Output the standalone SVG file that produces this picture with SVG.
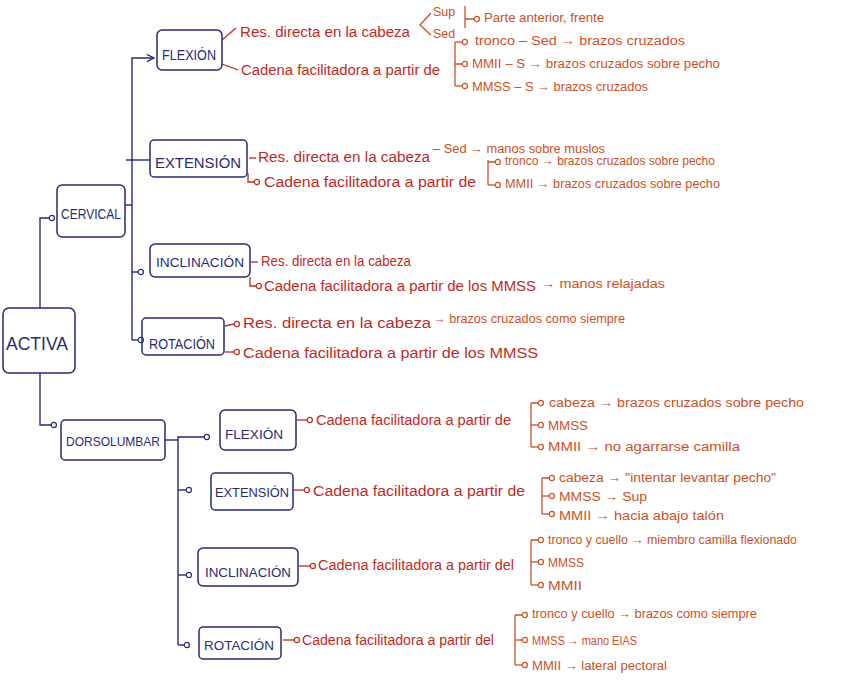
<svg xmlns="http://www.w3.org/2000/svg" width="848" height="687" viewBox="0 0 848 687">
<style>
.bx{fill:none;stroke:#272b74;stroke-width:1.5}
.ln{fill:none;stroke:#272b74;stroke-width:1.4}
.rl{fill:none;stroke:#bf2a1f;stroke-width:1.3}
.ol{fill:none;stroke:#cc5026;stroke-width:1.3}
text{font-family:"Liberation Sans","DejaVu Sans",sans-serif}
.t{fill:#272b74;font-size:15px}
.r{fill:#bf2a1f;font-size:14px}
.o{fill:#cc5026;font-size:12.5px}
</style>
<defs>
<marker id="cn" viewBox="0 0 8 8" refX="1.2" refY="4" markerWidth="8" markerHeight="8" markerUnits="userSpaceOnUse"><circle cx="4" cy="4" r="2.6" fill="#fff" stroke="#272b74" stroke-width="1.2"/></marker>
<marker id="cr" viewBox="0 0 8 8" refX="1.2" refY="4" markerWidth="8" markerHeight="8" markerUnits="userSpaceOnUse"><circle cx="4" cy="4" r="2.6" fill="#fff" stroke="#bf2a1f" stroke-width="1.2"/></marker>
<marker id="co" viewBox="0 0 8 8" refX="1.2" refY="4" markerWidth="8" markerHeight="8" markerUnits="userSpaceOnUse"><circle cx="4" cy="4" r="2.6" fill="#fff" stroke="#cc5026" stroke-width="1.2"/></marker>
<marker id="an" viewBox="0 0 10 10" refX="9" refY="5" markerWidth="9" markerHeight="9" markerUnits="userSpaceOnUse" orient="auto"><path d="M1,1 L9,5 L1,9" fill="none" stroke="#272b74" stroke-width="1.4"/></marker>
</defs>
<rect width="848" height="687" fill="#fff"/>

<g id="connectors">
  <path class="ln" d="M40,308 L40,218 L49,218" marker-end="url(#cn)"/>
  <path class="ln" d="M40,373 L40,425 L51,425" marker-end="url(#cn)"/>
  <path class="ln" d="M125,205 L132,205"/>
  <path class="ln" d="M132,340 L132,58 L154,58" marker-end="url(#an)"/>
  <path class="ln" d="M126,160 L150,160"/>
  <path class="ln" d="M132,272 L138,272" marker-end="url(#cn)"/>
  <path class="ln" d="M132,340 L138,340" marker-end="url(#cn)"/>
  <path class="ln" d="M165,440 L178,440"/>
  <path class="ln" d="M178,645 L178,437 L204,437" marker-end="url(#cn)"/>
  <path class="ln" d="M178,490 L186,490" marker-end="url(#cn)"/>
  <path class="ln" d="M178,575 L186,575" marker-end="url(#cn)"/>
  <path class="ln" d="M178,645 L184,645" marker-end="url(#cn)"/>
  <path class="rl" d="M222,40 L236,28"/>
  <path class="rl" d="M222,64 L238,70"/>
  <path class="rl" d="M249,158 L256,158"/>
  <path class="rl" d="M248,173 L248,182 L254,182" marker-end="url(#cr)"/>
  <path class="rl" d="M251,262 L258,262"/>
  <path class="rl" d="M250,277 L250,286 L256,286" marker-end="url(#cr)"/>
  <path class="rl" d="M225,326 L234,324" marker-end="url(#cr)"/>
  <path class="rl" d="M225,352 L234,352" marker-end="url(#cr)"/>
  <path class="rl" d="M297,420 L307,420" marker-end="url(#cr)"/>
  <path class="rl" d="M293,490 L304,490" marker-end="url(#cr)"/>
  <path class="rl" d="M299,566 L310,566" marker-end="url(#cr)"/>
  <path class="rl" d="M283,640 L294,640" marker-end="url(#cr)"/>
  <path class="ol" d="M431,13 L420,25 L431,35"/>
  <path class="ol" d="M465,6 L465,28 M465,19 L474,19" marker-end="url(#co)"/>
  <path class="ol" d="M455,42 L455,86 M455,64 L462,64" marker-end="url(#co)"/>
  <path class="ol" d="M455,42 L462,42" marker-end="url(#co)"/>
  <path class="ol" d="M455,86 L462,86" marker-end="url(#co)"/>
  <path class="ol" d="M488,160 L488,185 M488,162 L495,162" marker-end="url(#co)"/>
  <path class="ol" d="M488,185 L495,185" marker-end="url(#co)"/>
  <path class="ol" d="M531,403 L531,447 M531,403 L538,403" marker-end="url(#co)"/>
  <path class="ol" d="M531,425 L538,425" marker-end="url(#co)"/>
  <path class="ol" d="M531,447 L538,447" marker-end="url(#co)"/>
  <path class="ol" d="M542,478 L542,514 M542,478 L549,478" marker-end="url(#co)"/>
  <path class="ol" d="M542,496 L549,496" marker-end="url(#co)"/>
  <path class="ol" d="M542,514 L549,514" marker-end="url(#co)"/>
  <path class="ol" d="M531,540 L531,585 M531,540 L538,540" marker-end="url(#co)"/>
  <path class="ol" d="M531,562 L538,562" marker-end="url(#co)"/>
  <path class="ol" d="M531,585 L538,585" marker-end="url(#co)"/>
  <path class="ol" d="M515,615 L515,665 M515,615 L522,615" marker-end="url(#co)"/>
  <path class="ol" d="M515,640 L522,640" marker-end="url(#co)"/>
  <path class="ol" d="M515,665 L522,665" marker-end="url(#co)"/>
</g>

<g id="activa">
  <rect class="bx" x="3" y="308" width="72" height="65" rx="6"/>
  <text class="t" x="6" y="350" style="font-size:19px" textLength="62" lengthAdjust="spacingAndGlyphs">ACTIVA</text>
</g>
<g id="cervical">
  <rect class="bx" x="57" y="185" width="68" height="52" rx="5"/>
  <text class="t" x="61" y="219" style="font-size:14px" textLength="60" lengthAdjust="spacingAndGlyphs">CERVICAL</text>
</g>
<g id="dorsolumbar">
  <rect class="bx" x="61" y="420" width="104" height="40" rx="4"/>
  <text class="t" x="66" y="446" style="font-size:13px" textLength="94" lengthAdjust="spacingAndGlyphs">DORSOLUMBAR</text>
</g>

<g id="c-flexion">
  <rect class="bx" x="157" y="30" width="65" height="40" rx="5"/>
  <text class="t" x="162" y="60" style="font-size:14px" textLength="54" lengthAdjust="spacingAndGlyphs">FLEXIÓN</text>
</g>
<g id="c-flexion-detail">
  <text class="r" x="240" y="37" textLength="170" lengthAdjust="spacingAndGlyphs">Res. directa en la cabeza</text>
  <text class="r" x="241" y="75" textLength="199" lengthAdjust="spacingAndGlyphs">Cadena facilitadora a partir de</text>
  <text class="o" x="433" y="16">Sup</text>
  <text class="o" x="433" y="38">Sed</text>
  <text class="o" x="484" y="22" textLength="120" lengthAdjust="spacingAndGlyphs">Parte anterior, frente</text>
  <text class="o" x="475" y="45" textLength="210" lengthAdjust="spacingAndGlyphs">tronco – Sed → brazos cruzados</text>
  <text class="o" x="472" y="68" textLength="248" lengthAdjust="spacingAndGlyphs">MMII – S → brazos cruzados sobre pecho</text>
  <text class="o" x="472" y="91" textLength="176" lengthAdjust="spacingAndGlyphs">MMSS – S → brazos cruzados</text>
</g>

<g id="c-extension">
  <rect class="bx" x="150" y="140" width="97" height="37" rx="4"/>
  <text class="t" x="155" y="168" style="font-size:15px" textLength="86" lengthAdjust="spacingAndGlyphs">EXTENSIÓN</text>
</g>
<g id="c-extension-detail">
  <text class="r" x="258" y="162" textLength="172" lengthAdjust="spacingAndGlyphs">Res. directa en la cabeza</text>
  <text class="o" x="433" y="153" textLength="172" lengthAdjust="spacingAndGlyphs">– Sed → manos sobre muslos</text>
  <text class="r" x="264" y="187" textLength="212" lengthAdjust="spacingAndGlyphs">Cadena facilitadora a partir de</text>
  <text class="o" x="505" y="165" textLength="210" lengthAdjust="spacingAndGlyphs">tronco → brazos cruzados sobre pecho</text>
  <text class="o" x="505" y="188" textLength="215" lengthAdjust="spacingAndGlyphs">MMII → brazos cruzados sobre pecho</text>
</g>

<g id="c-inclinacion">
  <rect class="bx" x="150" y="244" width="100" height="33" rx="5"/>
  <text class="t" x="156" y="267" style="font-size:13px" textLength="88" lengthAdjust="spacingAndGlyphs">INCLINACIÓN</text>
</g>
<g id="c-inclinacion-detail">
  <text class="r" x="261" y="266" textLength="150" lengthAdjust="spacingAndGlyphs">Res. directa en la cabeza</text>
  <text class="r" x="264" y="291" textLength="272" lengthAdjust="spacingAndGlyphs">Cadena facilitadora a partir de los MMSS</text>
  <text class="o" x="541" y="288" textLength="124" lengthAdjust="spacingAndGlyphs">→ manos relajadas</text>
</g>

<g id="c-rotacion">
  <rect class="bx" x="142" y="318" width="82" height="37" rx="4"/>
  <text class="t" x="149" y="349" style="font-size:14px" textLength="66" lengthAdjust="spacingAndGlyphs">ROTACIÓN</text>
</g>
<g id="c-rotacion-detail">
  <text class="r" x="243" y="328" textLength="188" lengthAdjust="spacingAndGlyphs">Res. directa en la cabeza</text>
  <text class="o" x="433" y="323" textLength="192" lengthAdjust="spacingAndGlyphs">→ brazos cruzados como siempre</text>
  <text class="r" x="243" y="358" textLength="295" lengthAdjust="spacingAndGlyphs">Cadena facilitadora a partir de los MMSS</text>
</g>

<g id="d-flexion">
  <rect class="bx" x="220" y="410" width="76" height="40" rx="5"/>
  <text class="t" x="225" y="439" style="font-size:13px" textLength="58" lengthAdjust="spacingAndGlyphs">FLEXIÓN</text>
</g>
<g id="d-flexion-detail">
  <text class="r" x="316" y="425" textLength="195" lengthAdjust="spacingAndGlyphs">Cadena facilitadora a partir de</text>
  <text class="o" x="549" y="407" textLength="255" lengthAdjust="spacingAndGlyphs">cabeza → brazos cruzados sobre pecho</text>
  <text class="o" x="548" y="430" textLength="40" lengthAdjust="spacingAndGlyphs">MMSS</text>
  <text class="o" x="548" y="451" textLength="192" lengthAdjust="spacingAndGlyphs">MMII → no agarrarse camilla</text>
</g>

<g id="d-extension">
  <rect class="bx" x="211" y="473" width="82" height="37" rx="4"/>
  <text class="t" x="215" y="497" style="font-size:13px" textLength="74" lengthAdjust="spacingAndGlyphs">EXTENSIÓN</text>
</g>
<g id="d-extension-detail">
  <text class="r" x="313" y="496" textLength="212" lengthAdjust="spacingAndGlyphs">Cadena facilitadora a partir de</text>
  <text class="o" x="559" y="482" textLength="217" lengthAdjust="spacingAndGlyphs">cabeza → "intentar levantar pecho"</text>
  <text class="o" x="559" y="501" textLength="88" lengthAdjust="spacingAndGlyphs">MMSS → Sup</text>
  <text class="o" x="559" y="520" textLength="165" lengthAdjust="spacingAndGlyphs">MMII → hacia abajo talón</text>
</g>

<g id="d-inclinacion">
  <rect class="bx" x="198" y="548" width="100" height="38" rx="5"/>
  <text class="t" x="205" y="577" style="font-size:13px" textLength="86" lengthAdjust="spacingAndGlyphs">INCLINACIÓN</text>
</g>
<g id="d-inclinacion-detail">
  <text class="r" x="318" y="570" textLength="196" lengthAdjust="spacingAndGlyphs">Cadena facilitadora a partir del</text>
  <text class="o" x="548" y="544" textLength="249" lengthAdjust="spacingAndGlyphs">tronco y cuello → miembro camilla flexionado</text>
  <text class="o" x="548" y="567" textLength="36" lengthAdjust="spacingAndGlyphs">MMSS</text>
  <text class="o" x="548" y="590" textLength="34" lengthAdjust="spacingAndGlyphs">MMII</text>
</g>

<g id="d-rotacion">
  <rect class="bx" x="199" y="627" width="82" height="32" rx="4"/>
  <text class="t" x="204" y="650" style="font-size:13px" textLength="70" lengthAdjust="spacingAndGlyphs">ROTACIÓN</text>
</g>
<g id="d-rotacion-detail">
  <text class="r" x="302" y="645" textLength="192" lengthAdjust="spacingAndGlyphs">Cadena facilitadora a partir del</text>
  <text class="o" x="532" y="618" textLength="225" lengthAdjust="spacingAndGlyphs">tronco y cuello → brazos como siempre</text>
  <text class="o" x="532" y="645" textLength="105" lengthAdjust="spacingAndGlyphs">MMSS → mano EIAS</text>
  <text class="o" x="532" y="670" textLength="135" lengthAdjust="spacingAndGlyphs">MMII → lateral pectoral</text>
</g>
</svg>
